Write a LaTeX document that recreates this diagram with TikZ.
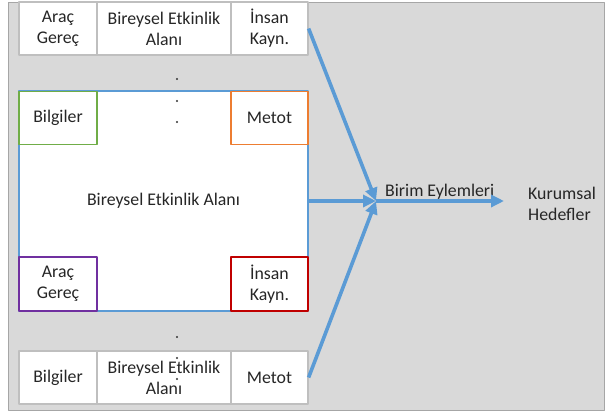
\documentclass[tikz,border=0pt]{standalone}
\usepackage{fontspec}
\setmainfont{Carlito}
\usetikzlibrary{arrows.meta}
\definecolor{zemin}{HTML}{D9D9D9}
\definecolor{cerceve}{HTML}{A6A6A6}
\definecolor{kutugri}{HTML}{BFBFBF}
\definecolor{mavi}{HTML}{5B9BD5}
\definecolor{yesil}{HTML}{70AD47}
\definecolor{turuncu}{HTML}{ED7D31}
\definecolor{mor}{HTML}{7030A0}
\definecolor{kirmizi}{HTML}{C00000}
\begin{document}
\begin{tikzpicture}[x=1pt,y=-1pt,line join=round,>={Triangle[length=13pt,width=12pt]},
	kutu/.style={draw=kutugri,fill=white,line width=1.2pt,inner sep=0pt,align=center,minimum height=53pt},
	renkli/.style={kutu,draw=#1,line width=1.5pt},
	ok/.style={draw=mavi,line width=3.6pt,->}]
	\tikzset{every node/.style={font=\fontsize{17.8}{21}\selectfont,text=black!85}}
	\useasboundingbox (0,0) rectangle (605,413);
	\draw[cerceve,fill=zemin,line width=1pt] (8,2) rectangle (604,410);
	\node[kutu,minimum width=78pt] (tAG) at (58,28.5) {Araç\\Gereç};
	\node[kutu,minimum width=134pt] (tBEA) at (164,28.5) {Bireysel Etkinlik\\Alanı};
	\node[kutu,minimum width=77pt] (tIK) at (269.5,28.5) {İnsan\\Kayn.};
	\node[renkli=mavi,minimum width=289pt,minimum height=220pt] (alan) at (163.5,201) {Bireysel Etkinlik Alanı};
	\node[renkli=yesil,minimum width=78pt] (bil) at (58,118) {Bilgiler};
	\node[renkli=turuncu,minimum width=77pt] (met) at (269.5,118) {Metot};
	\node[renkli=mor,minimum width=78pt,minimum height=54pt] (ag) at (58,284) {Araç\\Gereç};
	\node[renkli=kirmizi,minimum width=77pt,minimum height=54pt] (ik) at (269.5,284) {İnsan\\Kayn.};
	\node[kutu,minimum width=78pt] (bBil) at (58,377.5) {Bilgiler};
	\node[kutu,minimum width=134pt] (bBEA) at (164,377.5) {Bireysel Etkinlik\\Alanı};
	\node[kutu,minimum width=77pt] (bMet) at (269.5,377.5) {Metot};
	\foreach \y in {79,101,122,337,358,379}
	\fill[black!80] (177,\y) circle (1.1pt);
	\node[anchor=base west,inner sep=0pt] (birim) at (385,196) {Birim Eylemleri};
	\node[anchor=west,align=left,inner sep=0pt] (hedef) at (528,204) {Kurumsal\\Hedefler};
	\coordinate (birlesme) at (376,201);
	\coordinate (hedefok) at (504,201);
	\draw[ok] (tIK.east) -- (birlesme);
	\draw[ok] (alan.east) -- (birlesme);
	\draw[ok] (bMet.east) -- (birlesme);
	\draw[ok] (birlesme) -- (hedefok);
\end{tikzpicture}
\end{document}
